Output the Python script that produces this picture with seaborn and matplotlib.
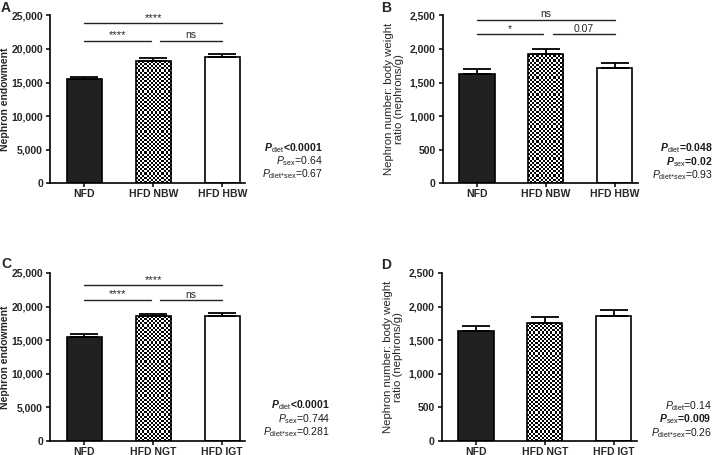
import matplotlib
matplotlib.use("Agg")
import matplotlib.pyplot as plt
import numpy as np
import seaborn as sns
from matplotlib.ticker import FuncFormatter, MultipleLocator

groups_ab = ["NFD", "HFD NBW", "HFD HBW"]
groups_cd = ["NFD", "HFD NGT", "HFD IGT"]

nephron_a = [15450, 18150, 18750]
sem_a = [400, 450, 450]
ratio_b = [1630, 1920, 1710]
sem_b = [70, 85, 75]
nephron_c = [15450, 18550, 18600]
sem_c = [400, 400, 450]
ratio_d = [1630, 1755, 1865]
sem_d = [75, 85, 85]

# (from, to, height, label)
sig_a = [(0, 2, 23800, "****"), (0, 1, 21200, "****"), (1, 2, 21200, "ns")]
sig_b = [(0, 2, 2430, "ns"), (0, 1, 2215, "*"), (1, 2, 2215, "0.07")]
sig_c = [(0, 2, 23150, "****"), (0, 1, 20950, "****"), (1, 2, 20950, "ns")]

# (subscript, value text, bold)
pvals_a = [("diet", "<0.0001", True), ("sex", "=0.64", False), ("diet*sex", "=0.67", False)]
pvals_b = [("diet", "=0.048", True), ("sex", "=0.02", True), ("diet*sex", "=0.93", False)]
pvals_c = [("diet", "<0.0001", True), ("sex", "=0.744", False), ("diet*sex", "=0.281", False)]
pvals_d = [("diet", "=0.14", False), ("sex", "=0.009", True), ("diet*sex", "=0.26", False)]

sns.set_style("ticks")
plt.rcParams["font.family"] = ["Liberation Sans", "DejaVu Sans"]
plt.rcParams.update({
    "mathtext.fontset": "custom",
    "mathtext.rm": "Liberation Sans",
    "mathtext.it": "Liberation Sans:italic",
    "mathtext.bf": "Liberation Sans:bold",
    "mathtext.bfit": "Liberation Sans:bold:italic",
})

W, H = 713, 455
fig = plt.figure(figsize=(7.13, 4.55), dpi=100)


def px_rect(left, bottom, width=195, height=168):
    return [left / W, (H - bottom) / H, width / W, height / H]


def checker_fill(ax, patch):
    x0, w, h = patch.get_x(), patch.get_width(), patch.get_height()
    p0 = ax.transData.transform((x0, 0))
    p1 = ax.transData.transform((x0 + w, h))
    ncols = max(int(round((p1[0] - p0[0]) / 2.1)), 1)
    nrows = max(int(round((p1[1] - p0[1]) / 2.1)), 1)
    board = np.add.outer(np.arange(nrows), np.arange(ncols)) % 2
    im = ax.imshow(board, cmap="gray_r", vmin=0, vmax=1, extent=(x0, x0 + w, 0, h),
                   aspect="auto", interpolation="nearest", zorder=0.9)
    im.set_clip_path(patch)
    patch.set_facecolor("none")


def panel(rect, groups, means, sems, ymax, ystep, ylabel, label_bold, letter, letter_xy,
          sigs, pvals, pval_x, pval_y0):
    ax = fig.add_axes(rect)
    sns.barplot(x=groups, y=means, hue=groups, palette=["#231f20", "white", "white"],
                legend=False, width=0.51, edgecolor="black", linewidth=1.2, ax=ax)
    ax.errorbar(range(3), means, yerr=[[0, 0, 0], sems], fmt="none", ecolor="black",
                elinewidth=1.3, capsize=10, capthick=1.3, zorder=3)
    ax.set_xlim(-0.5, 2.33)
    ax.set_ylim(0, ymax)
    checker_fill(ax, ax.patches[1])
    ax.set_xlim(-0.5, 2.33)
    ax.set_ylim(0, ymax)

    ax.yaxis.set_major_locator(MultipleLocator(ystep))
    ax.yaxis.set_major_formatter(FuncFormatter(lambda v, p: f"{v:,.0f}"))
    ax.tick_params(axis="both", direction="out", length=3, width=1.1, labelsize=7.5, pad=2,
                   color="black")
    ax.tick_params(axis="x", pad=1)
    for lab in ax.get_xticklabels() + ax.get_yticklabels():
        lab.set_fontweight("bold")
    for s in ["left", "bottom"]:
        ax.spines[s].set_linewidth(1.2)
        ax.spines[s].set_color("black")
    sns.despine(ax=ax)
    ax.set_xlabel("")
    if label_bold:
        ax.set_ylabel(ylabel, fontsize=7.5, fontweight="bold")
        ax.yaxis.set_label_coords(-0.207, 0.5)
    else:
        ax.set_ylabel(ylabel, fontsize=8.2, linespacing=1.0)
        ax.yaxis.set_label_coords(-0.197, 0.5)

    fig.text(letter_xy[0] / W, 1 - letter_xy[1] / H, letter, fontsize=10,
             fontweight="bold", ha="left", va="top")

    for a, b, yv, txt in sigs:
        x0 = a if a == 0 else a + 0.1
        x1 = b if b == 2 else b - 0.04
        ax.plot([x0, x1], [yv, yv], color="#222222", lw=1.0, clip_on=False)
        ax.annotate(txt, ((x0 + x1) / 2, yv), xytext=(0, 0.5), textcoords="offset points",
                    ha="center", va="bottom", fontsize=7.5 if txt != "****" else 8,
                    annotation_clip=False)

    for i, (sub, val, bold) in enumerate(pvals):
        sub_tex = r"\mathrm{diet}{*}\mathrm{sex}" if sub == "diet*sex" else r"\mathrm{" + sub + "}"
        if bold:
            s = r"$\mathbfit{P}_{" + sub_tex + "}$" + val
        else:
            s = r"$\mathit{P}_{" + sub_tex + "}$" + val
        ax.text(pval_x, pval_y0 - 0.08 * i, s, transform=ax.transAxes, ha="right",
                va="center", fontsize=7.5, fontweight="bold" if bold else "normal",
                color="#1a1a1a")
    return ax


ratio_label = "Nephron number: body weight\nratio (nephrons/g)"

panel(px_rect(50, 183.3), groups_ab, nephron_a, sem_a, 25000, 5000, "Nephron endowment",
      True, "A", (1, 0.5), sig_a, pvals_a, 1.40, 0.212)
panel(px_rect(442.5, 183.3), groups_ab, ratio_b, sem_b, 2500, 500, ratio_label,
      False, "B", (381, 0.5), sig_b, pvals_b, 1.385, 0.208)
panel(px_rect(50, 441), groups_cd, nephron_c, sem_c, 25000, 5000, "Nephron endowment",
      True, "C", (1, 257), sig_c, pvals_c, 1.435, 0.213)
panel(px_rect(441.5, 441), groups_cd, ratio_d, sem_d, 2500, 500, ratio_label,
      False, "D", (381, 258), [], pvals_d, 1.385, 0.21)

fig.savefig("out.png", dpi=100)
